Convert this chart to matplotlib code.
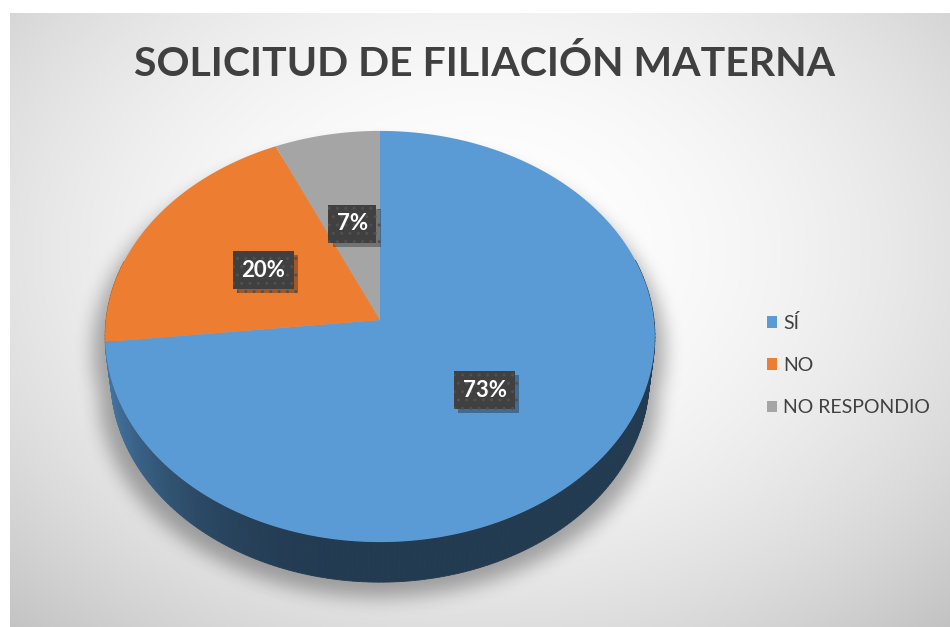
import numpy as np
import matplotlib.pyplot as plt
from matplotlib import patheffects
from matplotlib.patches import Patch
from matplotlib.path import Path

plt.rcParams["font.family"] = ["Lato", "DejaVu Sans"]

title = "SOLICITUD DE FILIACIÓN MATERNA"
categories = ["SÍ", "NO", "NO RESPONDIO"]
values = [73.3, 20.0, 6.7]
colors = ["#5B9BD5", "#ED7D31", "#A5A5A5"]

W, H = 950, 627
fig = plt.figure(figsize=(9.5, 6.27), dpi=100)
ax = fig.add_axes([0, 0, 1, 1])
ax.set_xlim(0, W)
ax.set_ylim(H, 0)
ax.axis("off")

# background: radial grey gradient inside the chart area
yy, xx = np.mgrid[0:H, 0:W]
r2 = ((xx - 475) / 600.0) ** 2 + ((yy - 250) / 450.0) ** 2
bg = np.clip(1 - 0.18 * r2, 0, 1)
bg[(xx < 10) | (yy < 13)] = 1.0
ax.imshow(np.dstack([bg] * 3), extent=(0, W, H, 0), zorder=0)

# perspective projection of the pie (units of radius)
u0, v0, A = 380, 320, 274
phi = np.radians(48.2)
rr = 0.1204
thick = 0.2316


def proj(X, Y, Z):
    depth = 1 + rr * (Z * np.cos(phi) - Y * np.sin(phi))
    u = u0 + A * X / depth
    v = v0 - A * (Z * np.sin(phi) + Y * np.cos(phi)) / depth
    return u, v


def rim(t, y=0.0, rho=1.0):
    return proj(rho * np.sin(t), y + 0 * t, rho * np.cos(t))


fracs = np.array(values) / sum(values)
edges = np.concatenate([[0], np.cumsum(fracs)]) * 2 * np.pi

# soft shadow under the pie
tt = np.linspace(0, 2 * np.pi, 200)
ut, vt = rim(tt)
ub, vb = rim(tt, -thick)
pts = np.column_stack([xx.ravel(), yy.ravel()])
mask = np.zeros(H * W, bool)
for uu, vv in [(ut, vt), (ub, vb)]:
    cx, cy = uu.mean(), vv.mean()
    sx = cx + (uu - cx) * 1.04
    sy = cy + (vv - cy) * 1.0 + 16
    mask |= Path(np.column_stack([sx, sy])).contains_points(pts)
mask = mask.reshape(H, W).astype(float)
for _ in range(3):
    k = 9
    c = np.cumsum(np.pad(mask, ((0, 0), (k, k)), mode="edge"), axis=1)
    mask = (c[:, 2 * k:] - c[:, :-2 * k]) / (2 * k)
    c = np.cumsum(np.pad(mask, ((k, k), (0, 0)), mode="edge"), axis=0)
    mask = (c[2 * k:, :] - c[:-2 * k, :]) / (2 * k)
shadow = np.zeros((H, W, 4))
shadow[..., 3] = mask * 0.32
ax.imshow(shadow, extent=(0, W, H, 0), zorder=1)

# side of the pie, back to front
segs = []
for i, col in enumerate(colors):
    ts = np.linspace(edges[i], edges[i + 1], max(4, int(fracs[i] * 360)))
    for a, b in zip(ts[:-1], ts[1:]):
        segs.append((a, b, col))
segs.sort(key=lambda s: -np.cos((s[0] + s[1]) / 2))
for a, b, col in segs:
    m = (a + b) / 2
    if np.cos(m) > 0.3:
        continue
    f = 0.38 + 0.4 * max(0.0, -np.sin(m)) ** 3
    base = np.array(plt.matplotlib.colors.to_rgb(col))
    t2 = np.array([a, b])
    ua, va = rim(t2)
    ubb, vbb = rim(t2, -thick)
    ax.fill([ua[0], ua[1], ubb[1], ubb[0]], [va[0], va[1], vbb[1], vbb[0]],
            color=base * f, lw=0.6, ec=base * f, zorder=2)

# top face wedges
for i, col in enumerate(colors):
    ts = np.linspace(edges[i], edges[i + 1], 200)
    uu, vv = rim(ts)
    ax.fill(np.r_[u0, uu], np.r_[v0, vv], color=col, lw=0, zorder=3)

# data labels
for i, val in enumerate(values):
    m = (edges[i] + edges[i + 1]) / 2
    lu, lv = rim(np.array([m]), rho=0.5)
    t = ax.text(lu[0], lv[0], f"{val:.0f}%", fontsize=16, weight="bold",
                color="white", ha="center", va="center", zorder=5,
                bbox=dict(boxstyle="square,pad=0.38", fc="#404040",
                          ec="#505050", lw=0, hatch=".."))
    t.get_bbox_patch().set_path_effects([
        patheffects.SimplePatchShadow(offset=(3, -3), shadow_rgbFace="k",
                                      alpha=0.3),
        patheffects.Normal()])

ax.text(485, 64, title, fontsize=29.5, weight="bold", color="#404040",
        ha="center", va="center", zorder=5)

handles = [Patch(fc=c, ec="none") for c in colors]
fig.legend(handles, categories, loc="center left",
           bbox_to_anchor=(749 / W, 1 - 365 / H), frameon=False, fontsize=14,
           labelcolor="#404040", handlelength=0.55, handleheight=0.55,
           handletextpad=0.3, labelspacing=1.3)

fig.savefig("out.png", dpi=100)
